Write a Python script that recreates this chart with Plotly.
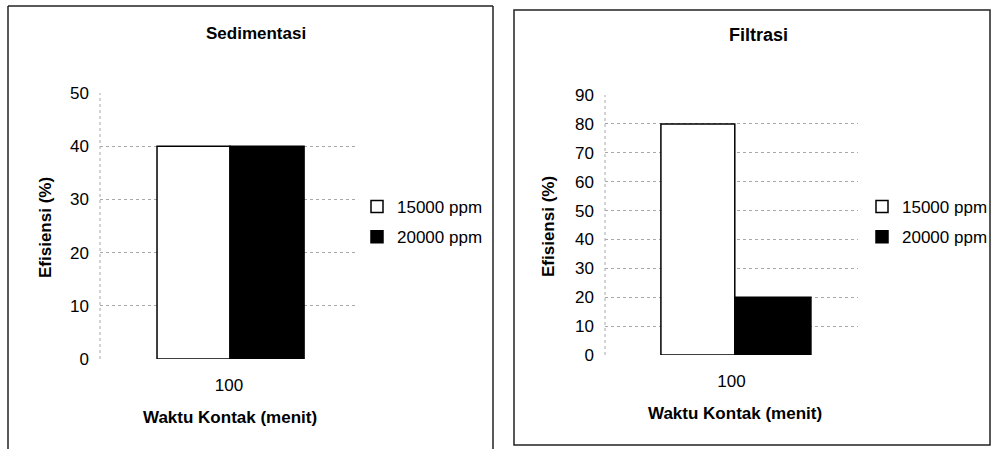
import plotly.graph_objects as go

categories = ["100"]
series_names = ["15000 ppm", "20000 ppm"]
sed_values = [40, 40]
fil_values = [80, 20]
sed_ticks = [0, 10, 20, 30, 40, 50]
fil_ticks = [0, 10, 20, 30, 40, 50, 60, 70, 80, 90]

W, H = 998, 449
FONT = "Liberation Sans, Arial, sans-serif"
fills = ["white", "black"]
# bar geometry (category units) for each panel
sed_offsets, sed_widths = [-0.279, 0.004], [0.283, 0.287]
fil_offsets, fil_widths = [-0.279, 0.014], [0.292, 0.300]

def px(x):
    return x / W

def py(y):
    return 1 - y / H

fig = go.Figure()

for i, name in enumerate(series_names):
    fig.add_trace(go.Bar(x=categories, y=[sed_values[i]], name=name, xaxis="x", yaxis="y",
                         offset=sed_offsets[i], width=sed_widths[i],
                         marker=dict(color=fills[i], line=dict(color="black", width=1.5)),
                         legend="legend", legendgroup=f"a{i}"))
for i, name in enumerate(series_names):
    fig.add_trace(go.Bar(x=categories, y=[fil_values[i]], name=name, xaxis="x2", yaxis="y2",
                         offset=fil_offsets[i], width=fil_widths[i],
                         marker=dict(color=fills[i], line=dict(color="black", width=1.5)),
                         legend="legend2", legendgroup=f"b{i}"))

grid = dict(showgrid=True, gridcolor="#a8a8a8", griddash="dot", gridwidth=1,
            zeroline=False, showline=False, ticks="",
            tickfont=dict(family=FONT, size=17, color="black"))
xax = dict(showgrid=False, zeroline=False, showline=False, ticks="", ticklabelstandoff=14,
           range=[-0.5, 0.5], tickfont=dict(family=FONT, size=17, color="black"))

fig.update_layout(
    width=W, height=H, margin=dict(l=0, r=0, t=0, b=0, autoexpand=False),
    paper_bgcolor="white", plot_bgcolor="white",
    barmode="overlay",
    showlegend=True,
    xaxis=dict(domain=[px(100), px(358)], anchor="y", **xax),
    yaxis=dict(domain=[py(359), py(93)], anchor="x", range=[0, 50], tickvals=sed_ticks,
               ticklabelstandoff=10, **grid),
    xaxis2=dict(domain=[px(605), px(858)], anchor="y2", **xax),
    yaxis2=dict(domain=[py(355), py(95)], anchor="x2", range=[0, 90], tickvals=fil_ticks,
                ticklabelstandoff=10, **grid),
    legend=dict(x=px(357), y=py(222), xanchor="left", yanchor="middle",
                font=dict(family=FONT, size=17, color="black"),
                traceorder="grouped", tracegroupgap=5, itemwidth=30, bgcolor="rgba(0,0,0,0)"),
    legend2=dict(x=px(862), y=py(222), xanchor="left", yanchor="middle",
                 font=dict(family=FONT, size=17, color="black"),
                 traceorder="grouped", tracegroupgap=5, itemwidth=30, bgcolor="rgba(0,0,0,0)"),
)

ann = []
def text(x, y, s, size=17, angle=0):
    ann.append(dict(x=px(x), y=py(y), xref="paper", yref="paper", text=f"<b>{s}</b>",
                    showarrow=False, textangle=angle, xanchor="center", yanchor="middle",
                    font=dict(family=FONT, size=size, color="black")))

text(256, 33, "Sedimentasi", 17)
text(758, 35, "Filtrasi", 18)
text(230, 417, "Waktu Kontak (menit)", 17)
text(735, 413, "Waktu Kontak (menit)", 17)
text(45, 228, "Efisiensi (%)", 17, -90)
text(548, 227, "Efisiensi (%)", 17, -90)
fig.update_layout(annotations=ann)

shapes = []
border = dict(color="#222", width=1.5)
# left panel border (open at bottom)
shapes.append(dict(type="line", xref="paper", yref="paper", x0=px(8), x1=px(493), y0=py(6), y1=py(6), line=border))
shapes.append(dict(type="line", xref="paper", yref="paper", x0=px(8), x1=px(8), y0=py(6), y1=0, line=border))
shapes.append(dict(type="line", xref="paper", yref="paper", x0=px(493), x1=px(493), y0=py(6), y1=0, line=border))
# right panel border
shapes.append(dict(type="rect", xref="paper", yref="paper", x0=px(514), x1=px(990), y0=py(445), y1=py(10), line=border))
# dotted left axis lines
for xr, yr in (("x domain", "y domain"), ("x2 domain", "y2 domain")):
    shapes.append(dict(type="line", xref=xr, yref=yr, x0=0, x1=0, y0=0, y1=1,
                       line=dict(color="#a8a8a8", width=1, dash="dot"), layer="below"))
fig.update_layout(shapes=shapes)

fig.write_html("out.html", config={"displayModeBar": False},
               post_script="document.body.style.margin='0';document.body.style.overflow='hidden';")
